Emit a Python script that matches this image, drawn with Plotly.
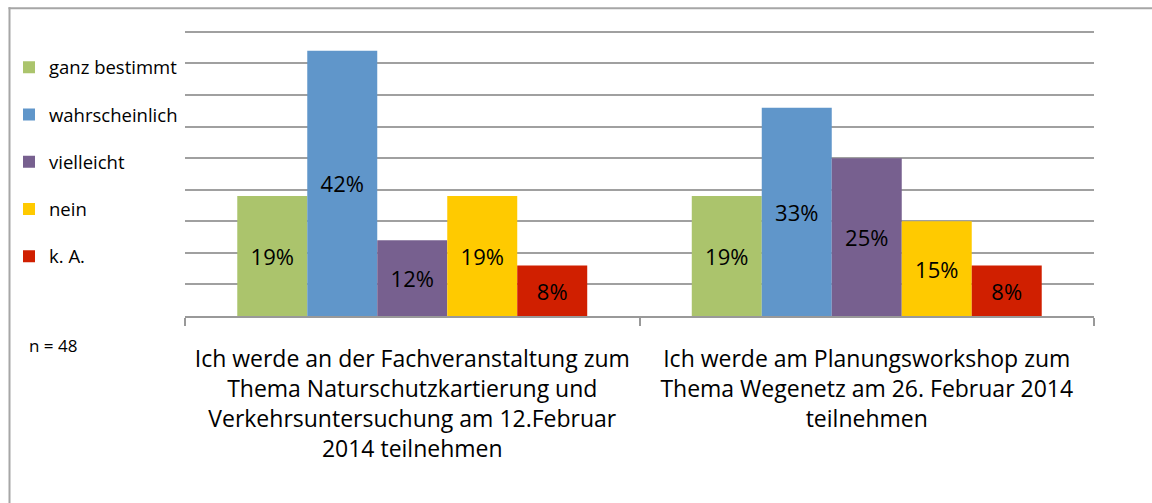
import plotly.graph_objects as go

categories = [
    "Ich werde an der Fachveranstaltung zum<br>Thema Naturschutzkartierung und<br>Verkehrsuntersuchung am 12.Februar<br>2014 teilnehmen",
    "Ich werde am Planungsworkshop zum<br>Thema Wegenetz am 26. Februar 2014<br>teilnehmen",
]
series_names = ["ganz bestimmt", "wahrscheinlich", "vielleicht", "nein", "k. A."]
ganz_bestimmt = [19, 19]
wahrscheinlich = [42, 33]
vielleicht = [12, 25]
nein = [19, 15]
k_a = [8, 8]
series_values = [ganz_bestimmt, wahrscheinlich, vielleicht, nein, k_a]
colors = ["#ABC46C", "#6096CA", "#77608F", "#FFCA00", "#D01F00"]

FONT = "Open Sans"

fig = go.Figure()
for name, vals, col in zip(series_names, series_values, colors):
    fig.add_trace(go.Bar(
        x=categories, y=vals, name=name, legendgroup=name,
        marker=dict(color=col, line=dict(width=0)),
        texttemplate="%{y}%", textposition="inside", insidetextanchor="middle",
        textangle=0, constraintext="none",
        textfont=dict(family=FONT, size=22, color="black"),
        hoverinfo="skip",
    ))

W, H = 1152, 503
L = 185
plot_right = 1094
plot_bottom = 315.7
T = 30.4
R = W - plot_right
B = H - plot_bottom
pw, ph = plot_right - L, plot_bottom - T


def px_x(v):
    return (v - L) / pw


def px_y(v):
    return (plot_bottom - v) / ph


border = dict(color="#a6a6a6", width=2)

fig.update_layout(
    width=W, height=H,
    margin=dict(l=L, r=R, t=T, b=B, pad=0, autoexpand=False),
    paper_bgcolor="white", plot_bgcolor="white",
    barmode="group", bargap=0.23, bargroupgap=0,
    font=dict(family=FONT, color="black"),
    showlegend=True,
    legend=dict(
        x=px_x(9), xanchor="left", y=px_y(49), yanchor="top",
        yref="paper", xref="paper",
        font=dict(family=FONT, size=18.5, color="black"),
        tracegroupgap=20.2, traceorder="grouped",
        bgcolor="rgba(0,0,0,0)", borderwidth=0,
        itemclick=False,
    ),
    xaxis=dict(
        showline=True, linecolor="#999999", linewidth=1.5,
        ticks="outside", tickson="boundaries", ticklen=8, tickcolor="#999999", tickwidth=1.5,
        tickfont=dict(family=FONT, size=23, color="black"),
        ticklabelstandoff=22,
        showgrid=False, fixedrange=True,
    ),
    yaxis=dict(
        range=[0, 45.3], tick0=0, dtick=5, showticklabels=False, showgrid=True,
        gridcolor="#a0a0a0", gridwidth=1.5, zeroline=False, showline=False,
        fixedrange=True,
    ),
    shapes=[
        dict(type="line", xref="paper", yref="paper",
             x0=px_x(8.5), x1=px_x(W + 5), y0=px_y(8.7), y1=px_y(8.7),
             line=border, layer="below"),
        dict(type="line", xref="paper", yref="paper",
             x0=px_x(9.5), x1=px_x(9.5), y0=px_y(7.7), y1=px_y(H + 5),
             line=border, layer="below"),
    ],
    annotations=[dict(
        text="n = 48", xref="paper", yref="paper",
        x=px_x(27), xanchor="left", y=px_y(345), yanchor="middle",
        showarrow=False, font=dict(family=FONT, size=17, color="black"),
    )],
)

fig.write_html(
    "out.html",
    config={"displayModeBar": False},
    post_script="document.body.style.margin='0';document.documentElement.style.overflow='hidden';document.body.style.overflow='hidden';",
)
